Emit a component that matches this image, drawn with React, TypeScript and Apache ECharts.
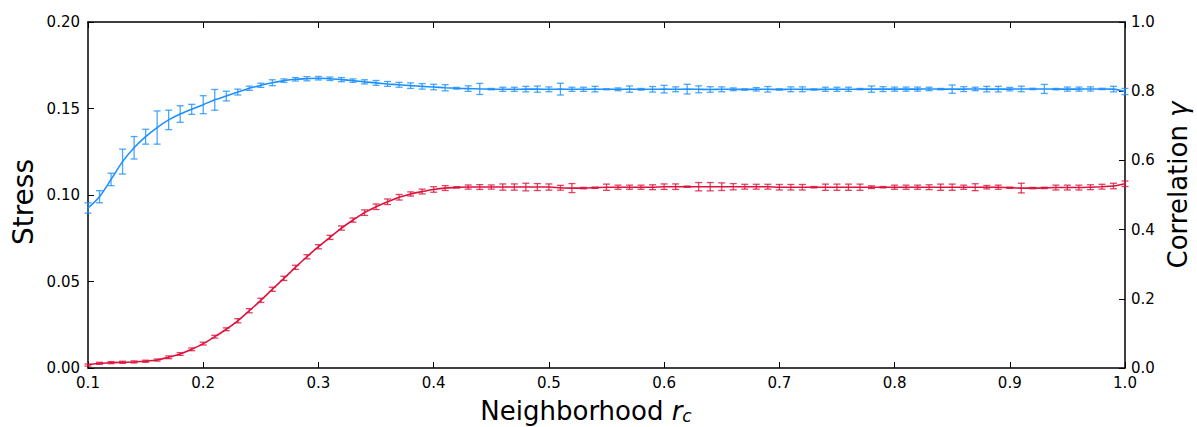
import React, { useEffect, useRef } from "react";
import * as echarts from "echarts";

// Sampling grid of the neighborhood radius r_c (0.10 … 1.00 step 0.01)
const rcValues: number[] = Array.from({ length: 91 }, (_, i) => +(0.1 + i * 0.01).toFixed(2));

// Stress (left axis)
const stress: number[] = [
  0.0925, 0.0990, 0.1090, 0.1193, 0.1273, 0.1337, 0.1390, 0.1434, 0.1468, 0.1495,
  0.1522, 0.1550, 0.1572, 0.1595, 0.1617, 0.1634, 0.1649, 0.1661, 0.1669, 0.1672,
  0.1675, 0.1672, 0.1667, 0.1661, 0.1654, 0.1648, 0.1642, 0.1637, 0.1632, 0.1628,
  0.1624, 0.1620, 0.1617, 0.1615, 0.1613, 0.1612, 0.1611, 0.1611, 0.1612, 0.1612,
  0.1611, 0.1612, 0.1611, 0.1611, 0.1612, 0.1611, 0.1611, 0.1612, 0.1611, 0.1611,
  0.1612, 0.1611, 0.1612, 0.1611, 0.1610, 0.1611, 0.1611, 0.1610, 0.1611, 0.1611,
  0.1610, 0.1611, 0.1611, 0.1610, 0.1611, 0.1611, 0.1611, 0.1612, 0.1612, 0.1612,
  0.1612, 0.1612, 0.1612, 0.1613, 0.1612, 0.1612, 0.1612, 0.1613, 0.1612, 0.1612,
  0.1612, 0.1613, 0.1613, 0.1613, 0.1612, 0.1612, 0.1612, 0.1613, 0.1613, 0.1612,
  0.1598,
];
const stressErr: number[] = [
  0.0030, 0.0035, 0.0036, 0.0072, 0.0065, 0.0043, 0.0096, 0.0056, 0.0048, 0.0029,
  0.0052, 0.0060, 0.0028, 0.0017, 0.0012, 0.0012, 0.0017, 0.0010, 0.0010, 0.0012,
  0.0010, 0.0010, 0.0012, 0.0010, 0.0012, 0.0014, 0.0014, 0.0014, 0.0016, 0.0016,
  0.0016, 0.0018, 0.0005, 0.0016, 0.0032, 0.0004, 0.0012, 0.0012, 0.0016, 0.0018,
  0.0014, 0.0034, 0.0012, 0.0012, 0.0016, 0.0003, 0.0008, 0.0018, 0.0005, 0.0016,
  0.0022, 0.0014, 0.0028, 0.0020, 0.0016, 0.0014, 0.0008, 0.0004, 0.0010, 0.0016,
  0.0004, 0.0014, 0.0014, 0.0004, 0.0012, 0.0012, 0.0012, 0.0004, 0.0018, 0.0014,
  0.0012, 0.0012, 0.0012, 0.0010, 0.0004, 0.0024, 0.0014, 0.0010, 0.0016, 0.0016,
  0.0010, 0.0016, 0.0004, 0.0026, 0.0004, 0.0012, 0.0012, 0.0012, 0.0004, 0.0016,
  0.0018,
];

// Correlation gamma (right axis)
const correlation: number[] = [
  0.0085, 0.0135, 0.0155, 0.0165, 0.0175, 0.0195, 0.0230, 0.0310, 0.0405, 0.0540,
  0.0705, 0.0905, 0.1120, 0.1365, 0.1655, 0.1955, 0.2275, 0.2590, 0.2910, 0.3215,
  0.3505, 0.3775, 0.4045, 0.4275, 0.4490, 0.4660, 0.4805, 0.4935, 0.5030, 0.5100,
  0.5160, 0.5200, 0.5220, 0.5230, 0.5230, 0.5230, 0.5230, 0.5230, 0.5230, 0.5230,
  0.5230, 0.5210, 0.5200, 0.5200, 0.5210, 0.5225, 0.5225, 0.5225, 0.5225, 0.5225,
  0.5240, 0.5240, 0.5240, 0.5240, 0.5240, 0.5240, 0.5240, 0.5240, 0.5240, 0.5240,
  0.5225, 0.5225, 0.5225, 0.5225, 0.5225, 0.5225, 0.5225, 0.5225, 0.5225, 0.5225,
  0.5225, 0.5225, 0.5225, 0.5225, 0.5225, 0.5225, 0.5225, 0.5225, 0.5225, 0.5225,
  0.5210, 0.5200, 0.5200, 0.5205, 0.5215, 0.5215, 0.5215, 0.5225, 0.5240, 0.5260,
  0.5325,
];
const correlationErr: number[] = [
  0.003, 0.003, 0.003, 0.003, 0.003, 0.003, 0.003, 0.004, 0.004, 0.004,
  0.004, 0.004, 0.004, 0.006, 0.006, 0.006, 0.006, 0.006, 0.006, 0.006,
  0.006, 0.006, 0.006, 0.006, 0.008, 0.008, 0.008, 0.008, 0.006, 0.007,
  0.008, 0.007, 0.002, 0.006, 0.007, 0.006, 0.009, 0.009, 0.011, 0.010,
  0.009, 0.007, 0.013, 0.002, 0.002, 0.009, 0.006, 0.006, 0.006, 0.007,
  0.008, 0.008, 0.002, 0.012, 0.012, 0.011, 0.009, 0.007, 0.007, 0.007,
  0.008, 0.008, 0.008, 0.002, 0.009, 0.009, 0.009, 0.009, 0.004, 0.002,
  0.006, 0.006, 0.006, 0.007, 0.009, 0.009, 0.006, 0.010, 0.005, 0.006,
  0.002, 0.014, 0.002, 0.002, 0.007, 0.007, 0.007, 0.007, 0.007, 0.008,
  0.008,
];

const xTicks = { min: 0.1, max: 1.0, interval: 0.1 };
const stressTicks = { min: 0, max: 0.2, interval: 0.05 };
const corrTicks = { min: 0, max: 1.0, interval: 0.2 };

const BLUE = "#1E90FF";
const BLUE_ERR = "rgba(30,144,255,0.8)";
const RED = "#DC143C";
const RED_ERR = "rgba(220,20,60,0.8)";
const FONT = "DejaVu Sans";

function errorRenderer(color: string) {
  return (params: any, api: any) => {
    const x = api.value(0);
    const lo = api.value(1);
    const hi = api.value(2);
    const p1 = api.coord([x, lo]);
    const p2 = api.coord([x, hi]);
    const w = 3.5;
    const style = { stroke: color, lineWidth: 1.3, fill: "none" };
    return {
      type: "group",
      children: [
        { type: "line", shape: { x1: p1[0], y1: p1[1], x2: p2[0], y2: p2[1] }, style },
        { type: "line", shape: { x1: p1[0] - w, y1: p1[1], x2: p1[0] + w, y2: p1[1] }, style },
        { type: "line", shape: { x1: p2[0] - w, y1: p2[1], x2: p2[0] + w, y2: p2[1] }, style },
      ],
    };
  };
}

export default function App() {
  const ref = useRef<HTMLDivElement>(null);
  useEffect(() => {
    document.body.style.margin = "0";
    if (!ref.current) return;
    const chart = echarts.init(ref.current, null, { renderer: "svg" });

    const axisLine = { show: true, onZero: false, lineStyle: { color: "#000", width: 1.5 } };
    const tick = { show: true, inside: true, length: 6, lineStyle: { color: "#000", width: 1 } };
    const label = { color: "#000", fontFamily: FONT, fontSize: 15 };

    const option: any = {
      animation: false,
      backgroundColor: "#fff",
      grid: { left: 88, right: 72, top: 22, bottom: 59, containLabel: false },
      xAxis: [
        {
          type: "value",
          ...xTicks,
          position: "bottom",
          axisLine,
          axisTick: tick,
          splitLine: { show: false },
          axisLabel: { ...label, margin: 7, formatter: (v: number) => v.toFixed(1) },
        },
        {
          type: "value",
          ...xTicks,
          position: "top",
          axisLine,
          axisTick: tick,
          splitLine: { show: false },
          axisLabel: { show: false },
        },
      ],
      yAxis: [
        {
          type: "value",
          ...stressTicks,
          position: "left",
          axisLine,
          axisTick: tick,
          splitLine: { show: false },
          axisLabel: { ...label, margin: 8, formatter: (v: number) => v.toFixed(2) },
        },
        {
          type: "value",
          ...corrTicks,
          position: "right",
          axisLine,
          axisTick: tick,
          splitLine: { show: false },
          axisLabel: { ...label, margin: 6, formatter: (v: number) => v.toFixed(1) },
        },
      ],
      series: [
        {
          type: "line",
          name: "Stress",
          xAxisIndex: 0,
          yAxisIndex: 0,
          data: rcValues.map((x, i) => [x, stress[i]]),
          smooth: 0.3,
          showSymbol: false,
          lineStyle: { color: BLUE, width: 1.6 },
          z: 2,
        },
        {
          type: "custom",
          name: "Stress error",
          xAxisIndex: 0,
          yAxisIndex: 0,
          renderItem: errorRenderer(BLUE_ERR),
          encode: { x: 0, y: [1, 2] },
          data: rcValues.map((x, i) => [x, stress[i] - stressErr[i], stress[i] + stressErr[i]]),
          z: 3,
        },
        {
          type: "line",
          name: "Correlation",
          xAxisIndex: 0,
          yAxisIndex: 1,
          data: rcValues.map((x, i) => [x, correlation[i]]),
          smooth: 0.3,
          showSymbol: false,
          lineStyle: { color: RED, width: 1.6 },
          z: 2,
        },
        {
          type: "custom",
          name: "Correlation error",
          xAxisIndex: 0,
          yAxisIndex: 1,
          renderItem: errorRenderer(RED_ERR),
          encode: { x: 0, y: [1, 2] },
          data: rcValues.map((x, i) => [x, correlation[i] - correlationErr[i], correlation[i] + correlationErr[i]]),
          z: 3,
        },
      ],
      graphic: [
        {
          type: "text",
          x: 23,
          y: 202,
          rotation: Math.PI / 2,
          style: {
            text: "Stress",
            fill: "#000",
            font: `28px "${FONT}"`,
            textAlign: "center",
            textVerticalAlign: "middle",
          },
        },
        {
          type: "text",
          x: 1178,
          y: 185,
          rotation: Math.PI / 2,
          style: {
            text: "Correlation {g|γ}",
            fill: "#000",
            font: `26px "${FONT}"`,
            textAlign: "center",
            textVerticalAlign: "middle",
            rich: {
              g: { fontFamily: FONT, fontSize: 26, fontStyle: "italic", fill: "#000" },
            },
          },
        },
        {
          type: "text",
          x: 586,
          y: 411,
          style: {
            text: "Neighborhood {r|r}{c|c}",
            fill: "#000",
            font: `26px "${FONT}"`,
            textAlign: "center",
            textVerticalAlign: "middle",
            rich: {
              r: { fontFamily: FONT, fontSize: 26, fontStyle: "italic", fill: "#000" },
              c: { fontFamily: FONT, fontSize: 17, fontStyle: "italic", fill: "#000", padding: [9, 0, 0, 0] },
            },
          },
        },
      ],
    };
    chart.setOption(option);
    return () => chart.dispose();
  }, []);
  return <div ref={ref} style={{ width: 1197, height: 427 }} />;
}
